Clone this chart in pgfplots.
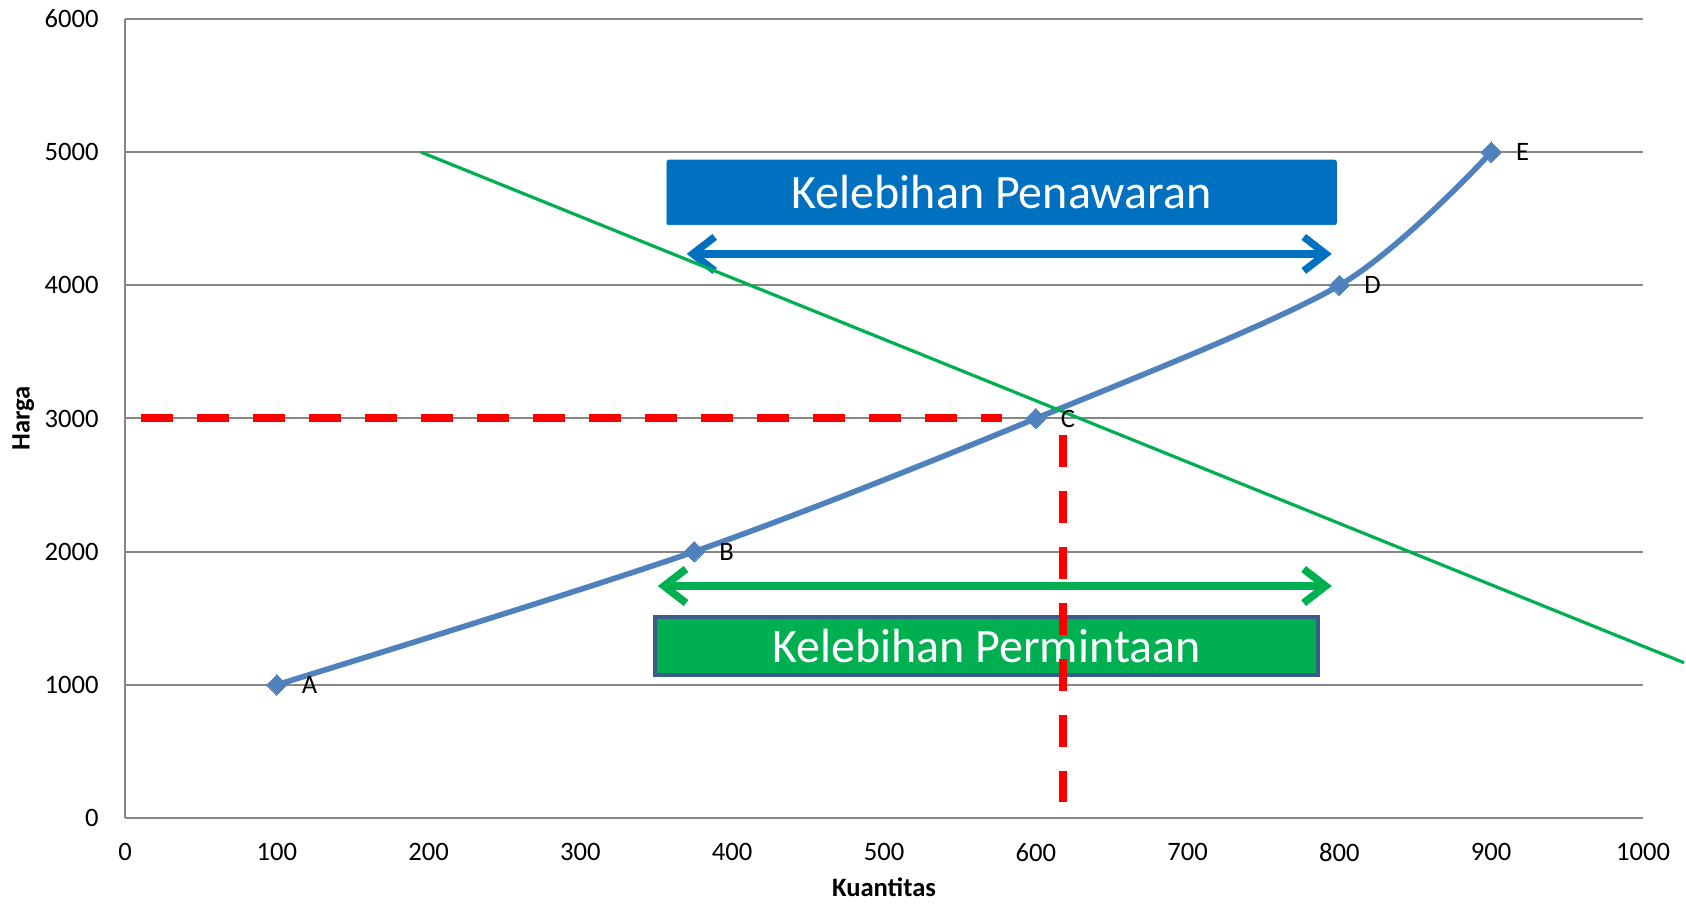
\documentclass[border=0pt]{standalone}
\usepackage{fontspec}
\setmainfont{Carlito}
\usepackage{pgfplots}
\pgfplotsset{compat=1.18}
\usetikzlibrary{arrows.meta}

\definecolor{supply}{HTML}{4F81BD}
\definecolor{demand}{HTML}{00B050}
\definecolor{gridgray}{HTML}{868686}
\definecolor{boxblue}{HTML}{0070C0}
\definecolor{boxgreen}{HTML}{00B050}
\definecolor{boxedge}{HTML}{385D8A}
\definecolor{dashred}{HTML}{FF0000}

\begin{document}
\begin{tikzpicture}
\begin{axis}[
  scale only axis,
  width=759pt, height=399.5pt,
  xmin=0, xmax=1000, ymin=0, ymax=6000,
  xtick={0,100,...,1000},
  ytick={0,1000,...,6000},
  axis x line*=bottom, axis y line*=left,
  axis line style={draw=gridgray, line width=1pt, -},
  ymajorgrids,
  grid style={draw=gridgray, line width=1pt},
  major tick length=0pt,
  tick label style={font=\fontsize{13.3pt}{16pt}\selectfont, inner sep=0pt},
  yticklabel style={xshift=-13pt},
  xticklabel style={yshift=-12.5pt},
  /pgf/number format/assume math mode=true,
  /pgf/number format/set thousands separator={},
  xlabel={Kuantitas}, ylabel={Harga},
  every axis x label/.style={at={(axis description cs:0.5,-0.087)}, anchor=center, inner sep=0pt,
    font=\fontsize{13.3pt}{16pt}\selectfont\bfseries},
  every axis y label/.style={at={(axis description cs:-0.067,0.5)}, anchor=center, rotate=90, inner sep=0pt,
    font=\fontsize{13.3pt}{16pt}\selectfont\bfseries},
  clip=false,
]
% annotation boxes
\draw[fill=boxblue, draw=boxblue, rounded corners=1pt]
  (axis cs:357,4455) rectangle (axis cs:798,4940);
\node[text=white, font=\fontsize{24pt}{28pt}\selectfont] at (axis cs:577.5,4697) {Kelebihan Penawaran};
\draw[fill=boxgreen, draw=boxedge, line width=2pt]
  (axis cs:349,1071) rectangle (axis cs:786,1509);
\node[text=white, font=\fontsize{24pt}{28pt}\selectfont] at (axis cs:567.5,1290) {Kelebihan Permintaan};

% double arrows
\addplot[boxblue, line width=3.7pt, line cap=round,
  {Straight Barb[length=11pt,width=17pt]}-{Straight Barb[length=11pt,width=17pt]}]
  coordinates {(370,4236) (795,4236)};
\addplot[demand, line width=3.8pt, line cap=round,
  {Straight Barb[length=11pt,width=17pt]}-{Straight Barb[length=11pt,width=17pt]}]
  coordinates {(351,1742) (795,1742)};

% equilibrium guides
\addplot[dashred, line width=4pt, dash pattern=on 16pt off 12pt]
  coordinates {(10.3,3000) (577.5,3000)};
\addplot[dashred, line width=4pt, dash pattern=on 16pt off 12pt]
  coordinates {(617.7,2875) (617.7,122)};

% supply curve
\addplot[supply, line width=2.8pt, smooth, mark=square*,
  mark size=3.6pt, mark options={fill=supply, draw=supply, line width=0pt, rotate=45},
  nodes near coords, point meta=explicit symbolic,
  every node near coord/.append style={anchor=west, xshift=12.5pt, inner sep=0pt,
    text=black, font=\fontsize{13.3pt}{16pt}\selectfont}]
  coordinates {
    (100,1000) [A]
    (375,2000) [B]
    (600,3000) [C]
    (800,4000) [D]
    (900,5000) [E]
  };

% demand line
\addplot[demand, line width=1.6pt] coordinates {(195,5000) (1027,1166)};
\end{axis}
\pgfresetboundingbox
\useasboundingbox (-62.5pt,-43pt) rectangle (780.5pt,409pt);
\end{tikzpicture}
\end{document}
